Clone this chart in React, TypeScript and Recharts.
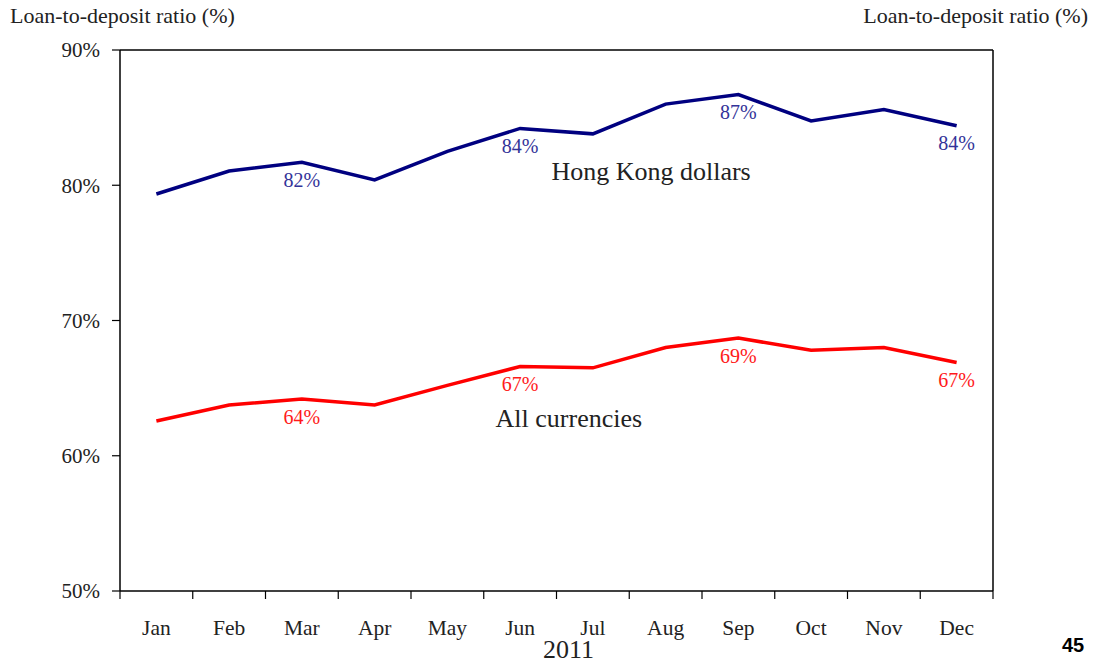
import React from 'react';
import { LineChart, Line, XAxis, YAxis, ReferenceLine, ReferenceDot, LabelList } from 'recharts';

const MONTHS = ['Jan', 'Feb', 'Mar', 'Apr', 'May', 'Jun', 'Jul', 'Aug', 'Sep', 'Oct', 'Nov', 'Dec'];
const HKD = [79.35, 81.05, 81.7, 80.4, 82.5, 84.2, 83.8, 86.0, 86.7, 84.75, 85.6, 84.4];
const ALL = [62.57, 63.75, 64.2, 63.75, 65.2, 66.6, 66.5, 68.0, 68.7, 67.8, 68.0, 66.9];
const LABELLED_MONTHS = ['Mar', 'Jun', 'Sep', 'Dec'];
const Y_TICKS = [50, 60, 70, 80, 90];
const X_TICKS = Array.from({ length: 25 }, (_, i) => i / 2);
const AXIS_TITLE = 'Loan-to-deposit ratio (%)';
const YEAR = '2011';
const PAGE_NO = '45';
const HKD_NAME = 'Hong Kong dollars';
const ALL_NAME = 'All currencies';
const HKD_NAME_POS = { x: 7.3, y: 81.05 };
const ALL_NAME_POS = { x: 6.17, y: 62.8 };

const data = MONTHS.map((m, i) => ({ x: i + 0.5, month: m, hkd: HKD[i], all: ALL[i] }));

const FONT = '"Liberation Serif", "Times New Roman", serif';
const TEXT = '#222';

const XTick = (props: any) => {
  const { x, y, payload } = props;
  const v = payload.value;
  if (Number.isInteger(v)) {
    return <line x1={x} x2={x} y1={y} y2={y + 8} stroke="#000" strokeWidth={1.2} />;
  }
  const idx = Math.floor(v);
  return (
    <text x={x} y={y + 39} textAnchor="middle" dominantBaseline="middle" fontFamily={FONT} fontSize={21.5} fill={TEXT}>
      {MONTHS[idx]}
    </text>
  );
};

const makeLabel = (color: string) => (props: any) => {
  const { x, y, value, index } = props;
  if (!LABELLED_MONTHS.includes(MONTHS[index])) return null;
  return (
    <text x={x} y={y + 20} textAnchor="middle" dominantBaseline="middle" fontFamily={FONT} fontSize={20} fill={color}>
      {Math.round(value)}%
    </text>
  );
};

const LeftTitle = (props: any) => {
  const vb = props.viewBox;
  return (
    <text x={vb.x + 10} y={vb.y - 32} dominantBaseline="middle" fontFamily={FONT} fontSize={22} fill={TEXT}>
      {AXIS_TITLE}
    </text>
  );
};
const RightTitle = (props: any) => {
  const vb = props.viewBox;
  return (
    <text x={vb.x + vb.width - 9} y={vb.y - 32} textAnchor="end" dominantBaseline="middle" fontFamily={FONT} fontSize={22} fill={TEXT}>
      {AXIS_TITLE}
    </text>
  );
};
const YearLabel = (props: any) => {
  const vb = props.viewBox;
  return (
    <text x={vb.x + vb.width / 2 + 12} y={vb.y + vb.height - 12} textAnchor="middle" dominantBaseline="middle" fontFamily={FONT} fontSize={26} fill={TEXT}>
      {YEAR}
    </text>
  );
};

export default function App() {
  return (
    <div style={{ position: 'absolute', left: 0, top: 0, width: 1097, height: 664, background: '#fff' }}>
      <LineChart width={1097} height={664} data={data} margin={{ top: 50, right: 0, bottom: 0, left: 0 }}>
        <XAxis
          dataKey="x"
          type="number"
          domain={[0, 12]}
          ticks={X_TICKS}
          interval={0}
          tick={<XTick />}
          tickLine={false}
          tickSize={0}
          tickMargin={0}
          height={73}
          axisLine={{ stroke: '#000', strokeWidth: 1.5 }}
          label={<YearLabel />}
        />
        <YAxis
          yAxisId="left"
          domain={[50, 90]}
          ticks={Y_TICKS}
          width={120}
          tickFormatter={(v: number) => `${v}%`}
          tick={{ fontFamily: FONT, fontSize: 21, fill: TEXT }}
          tickSize={8}
          tickMargin={12}
          tickLine={{ stroke: '#000', strokeWidth: 1.2 }}
          axisLine={{ stroke: '#000', strokeWidth: 1.5 }}
          label={<LeftTitle />}
        />
        <YAxis
          yAxisId="right"
          orientation="right"
          domain={[50, 90]}
          ticks={Y_TICKS}
          width={104}
          tickFormatter={(v: number) => `${v}%`}
          tick={{ fontFamily: FONT, fontSize: 21, fill: TEXT }}
          tickSize={8}
          tickMargin={10}
          tickLine={{ stroke: '#000', strokeWidth: 1.2 }}
          axisLine={{ stroke: '#000', strokeWidth: 1.5 }}
          label={<RightTitle />}
        />
        <ReferenceLine yAxisId="left" y={90} stroke="#000" strokeWidth={1.5} />
        <Line yAxisId="left" dataKey="hkd" stroke="#000080" strokeWidth={3.5} dot={false} isAnimationActive={false}>
          <LabelList dataKey="hkd" content={makeLabel('#333399')} />
        </Line>
        <Line yAxisId="left" dataKey="all" stroke="#ff0000" strokeWidth={3.5} dot={false} isAnimationActive={false}>
          <LabelList dataKey="all" content={makeLabel('#ff1a1a')} />
        </Line>
        <ReferenceDot
          yAxisId="left"
          x={HKD_NAME_POS.x}
          y={HKD_NAME_POS.y}
          r={0}
          stroke="none"
          fill="none"
          label={{ value: HKD_NAME, position: 'center', fontFamily: FONT, fontSize: 26, fill: TEXT }}
        />
        <ReferenceDot
          yAxisId="left"
          x={ALL_NAME_POS.x}
          y={ALL_NAME_POS.y}
          r={0}
          stroke="none"
          fill="none"
          label={{ value: ALL_NAME, position: 'center', fontFamily: FONT, fontSize: 26, fill: TEXT }}
        />
      </LineChart>
      <div
        style={{
          position: 'absolute',
          left: 1058,
          top: 633,
          width: 30,
          textAlign: 'center',
          fontFamily: '"Liberation Sans", Arial, sans-serif',
          fontWeight: 'bold',
          fontSize: 20,
          lineHeight: '24px',
          color: '#000',
        }}
      >
        {PAGE_NO}
      </div>
    </div>
  );
}
